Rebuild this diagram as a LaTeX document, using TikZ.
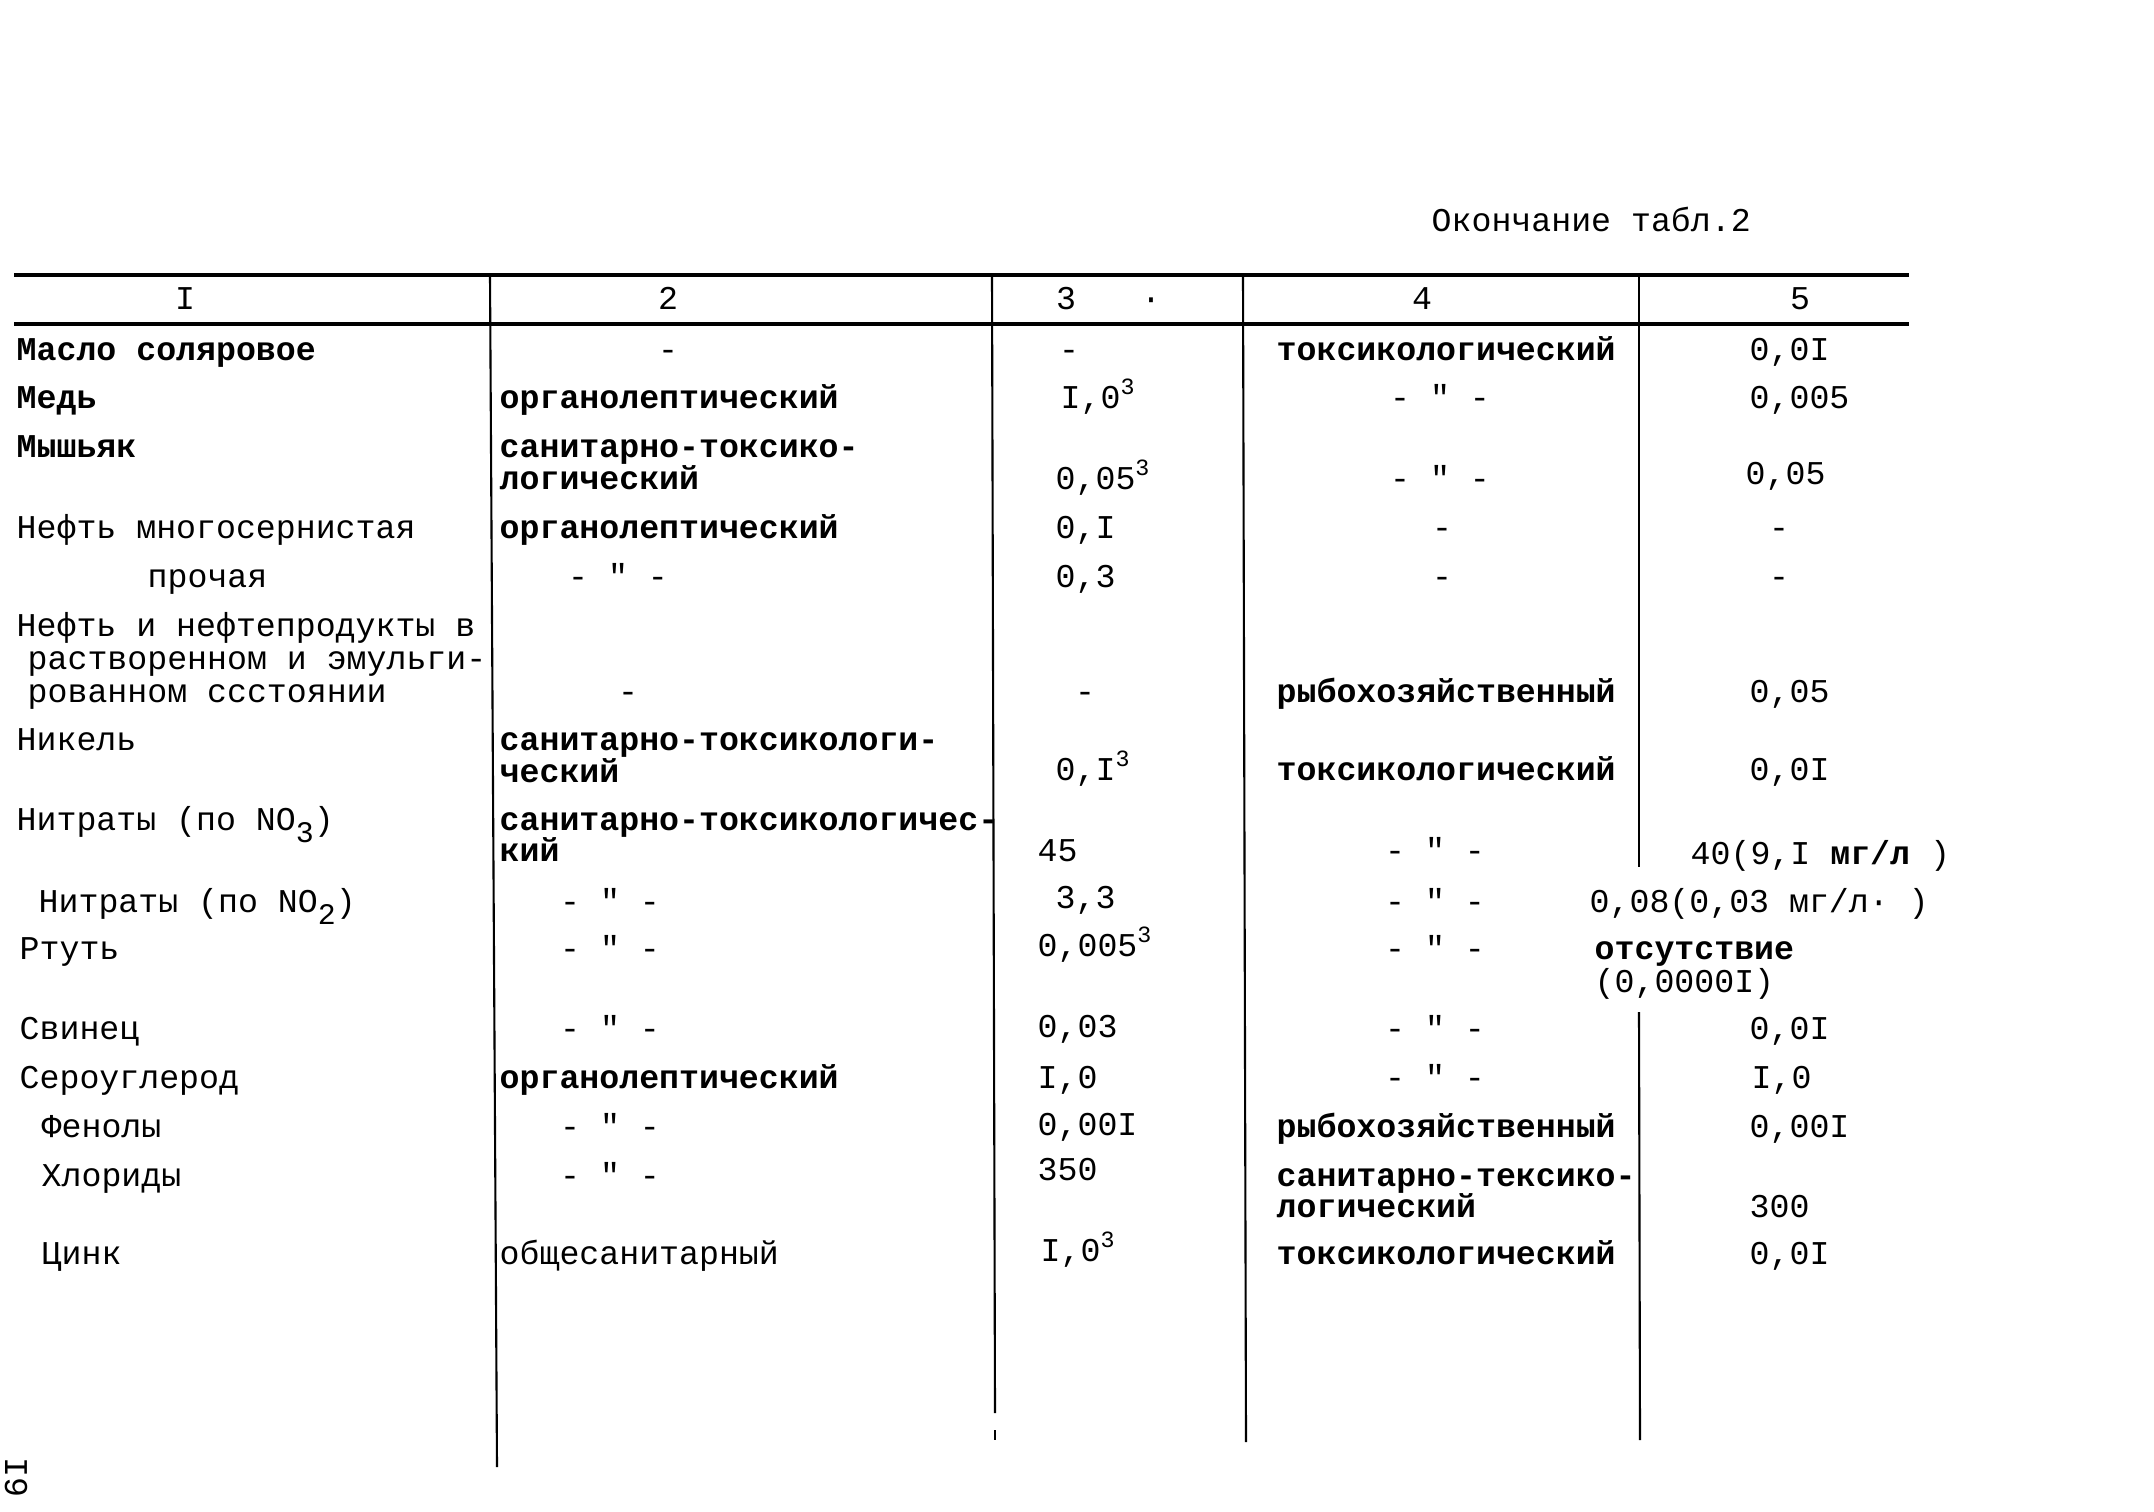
\documentclass[tikz,border=0pt]{standalone}
\usepackage{fontspec}
\setmainfont{Liberation Mono}[Ligatures=TeXOff]
\usepackage{tikz}

\tikzset{
  txt/.style={anchor=base west, inner sep=0pt, font=\fontsize{9.45}{11}\selectfont},
  bld/.style={txt, font=\fontsize{9.45}{11}\selectfont\bfseries},
  ctr/.style={txt, anchor=base},
  thickrule/.style={line width=1.3pt},
  colline/.style={line width=0.6pt},
}
\newcommand{\ditto}{- " -}
\newcommand{\sub}[1]{\raisebox{-0.7ex}{\fontsize{8.5}{9}\selectfont #1}}

\begin{document}
\begin{tikzpicture}[x=0.01cm, y=-0.01cm]
            \useasboundingbox (0,0) rectangle (2154,1512);

            \node[txt] (title) at (1431,231) {Окончание табл.2};

            % rules of the table
            \draw[thickrule] (14,275) -- (1909,275);
            \draw[thickrule] (14,324) -- (1909,324);
            \draw[colline] (490,275) -- (497,1467);
            \draw[colline] (992,275) -- (995,1413);
            \draw[colline] (995,1430) -- (995,1440);
            \draw[colline] (1243,275) -- (1246,1442);
            \draw[colline] (1639,275) -- (1639,867);
            \draw[colline] (1639,1012) -- (1640,1440);

            % head
            \node[ctr] (h1) at (185,309) {I};
            \node[ctr] (h2) at (668,309) {2};
            \node[ctr] (h3) at (1066,309) {3};
            \node[ctr] (hdot) at (1151,309) {·};
            \node[ctr] (h4) at (1422,309) {4};
            \node[ctr] (h5) at (1800,309) {5};

            % column 1
            \node[bld] (a1) at (16,360) {Масло соляровое};
            \node[bld] (a2) at (16,408) {Медь};
            \node[bld] (a3) at (16,457) {Мышьяк};
            \node[txt] (a4) at (16,538) {Нефть многосернистая};
            \node[txt] (a5) at (147,587) {прочая};
            \node[txt] (a6) at (16,636) {Нефть и нефтепродукты в};
            \node[txt] (a6b) at (27,669) {растворенном и эмульги-};
            \node[txt] (a6c) at (27,702) {рованном ссстоянии};
            \node[txt] (a7) at (16,750) {Никель};
            \node[txt] (a8) at (16,830) {Нитраты (по NO\sub{3})};
            \node[txt] (a9) at (38,912) {Нитраты (по NO\sub{2})};
            \node[txt] (a10) at (19,959) {Ртуть};
            \node[txt] (a11) at (19,1039) {Свинец};
            \node[txt] (a12) at (19,1088) {Сероуглерод};
            \node[txt] (a13) at (41,1137) {Фенолы};
            \node[txt] (a14) at (41,1186) {Хлориды};
            \node[txt] (a15) at (41,1264) {Цинк};

            % column 2
            \node[ctr] (b1) at (668,360) {-};
            \node[bld] (b2) at (499,408) {органолептический};
            \node[bld] (b3) at (499,457) {санитарно-токсико-};
            \node[bld] (b3b) at (499,489) {логический};
            \node[bld] (b4) at (499,538) {органолептический};
            \node[ctr] (b5) at (618,587) {\ditto};
            \node[ctr] (b6) at (628,702) {-};
            \node[bld] (b7) at (499,750) {санитарно-токсикологи-};
            \node[bld] (b7b) at (499,782) {ческий};
            \node[bld] (b8) at (499,830) {санитарно-токсикологичес-};
            \node[bld] (b8b) at (499,861) {кий};
            \node[ctr] (b9) at (610,912) {\ditto};
            \node[ctr] (b10) at (610,959) {\ditto};
            \node[ctr] (b11) at (610,1039) {\ditto};
            \node[bld] (b12) at (499,1088) {органолептический};
            \node[ctr] (b13) at (610,1137) {\ditto};
            \node[ctr] (b14) at (610,1186) {\ditto};
            \node[txt] (b15) at (499,1264) {общесанитарный};

            % column 3
            \node[ctr] (c1) at (1069,360) {-};
            \node[txt] (c2) at (1060,408) {I,0\textsuperscript{3}};
            \node[txt] (c3) at (1055,489) {0,05\textsuperscript{3}};
            \node[txt] (c4) at (1055,538) {0,I};
            \node[txt] (c5) at (1055,587) {0,3};
            \node[ctr] (c6) at (1085,702) {-};
            \node[txt] (c7) at (1055,780) {0,I\textsuperscript{3}};
            \node[txt] (c8) at (1037,861) {45};
            \node[txt] (c9) at (1055,908) {3,3};
            \node[txt] (c10) at (1037,956) {0,005\textsuperscript{3}};
            \node[txt] (c11) at (1037,1037) {0,03};
            \node[txt] (c12) at (1037,1088) {I,0};
            \node[txt] (c13) at (1037,1135) {0,00I};
            \node[txt] (c14) at (1037,1180) {350};
            \node[txt] (c15) at (1040,1261) {I,0\textsuperscript{3}};

            % column 4
            \node[bld] (d1) at (1276,360) {токсикологический};
            \node[ctr] (d2) at (1440,408) {\ditto};
            \node[ctr] (d3) at (1440,489) {\ditto};
            \node[ctr] (d4) at (1442,538) {-};
            \node[ctr] (d5) at (1442,587) {-};
            \node[bld] (d6) at (1276,702) {рыбохозяйственный};
            \node[bld] (d7) at (1276,780) {токсикологический};
            \node[ctr] (d8) at (1435,861) {\ditto};
            \node[ctr] (d9) at (1435,912) {\ditto};
            \node[ctr] (d10) at (1435,959) {\ditto};
            \node[ctr] (d11) at (1435,1039) {\ditto};
            \node[ctr] (d12) at (1435,1088) {\ditto};
            \node[bld] (d13) at (1276,1137) {рыбохозяйственный};
            \node[bld] (d14) at (1276,1186) {санитарно-тексико-};
            \node[bld] (d14b) at (1276,1217) {логический};
            \node[bld] (d15) at (1276,1264) {токсикологический};

            % column 5
            \node[txt] (e1) at (1749,360) {0,0I};
            \node[txt] (e2) at (1749,408) {0,005};
            \node[txt] (e3) at (1745,484) {0,05};
            \node[ctr] (e4) at (1779,538) {-};
            \node[ctr] (e5) at (1779,587) {-};
            \node[txt] (e6) at (1749,702) {0,05};
            \node[txt] (e7) at (1749,780) {0,0I};
            \node[txt] (e8) at (1690,864) {40(9,I \textbf{мг/л} )};
            \node[txt] (e9) at (1589,912) {0,08(0,03 мг/л· )};
            \node[bld] (e10) at (1594,959) {отсутствие};
            \node[txt] (e10b) at (1594,992) {(0,0000I)};
            \node[txt] (e11) at (1749,1039) {0,0I};
            \node[txt] (e12) at (1751,1088) {I,0};
            \node[txt] (e13) at (1749,1137) {0,00I};
            \node[txt] (e14) at (1749,1217) {300};
            \node[txt] (e15) at (1749,1264) {0,0I};

            % page number
            \node[txt, anchor=center, rotate=-90] (page) at (16,1477) {I9};
        \end{tikzpicture}
\end{document}
